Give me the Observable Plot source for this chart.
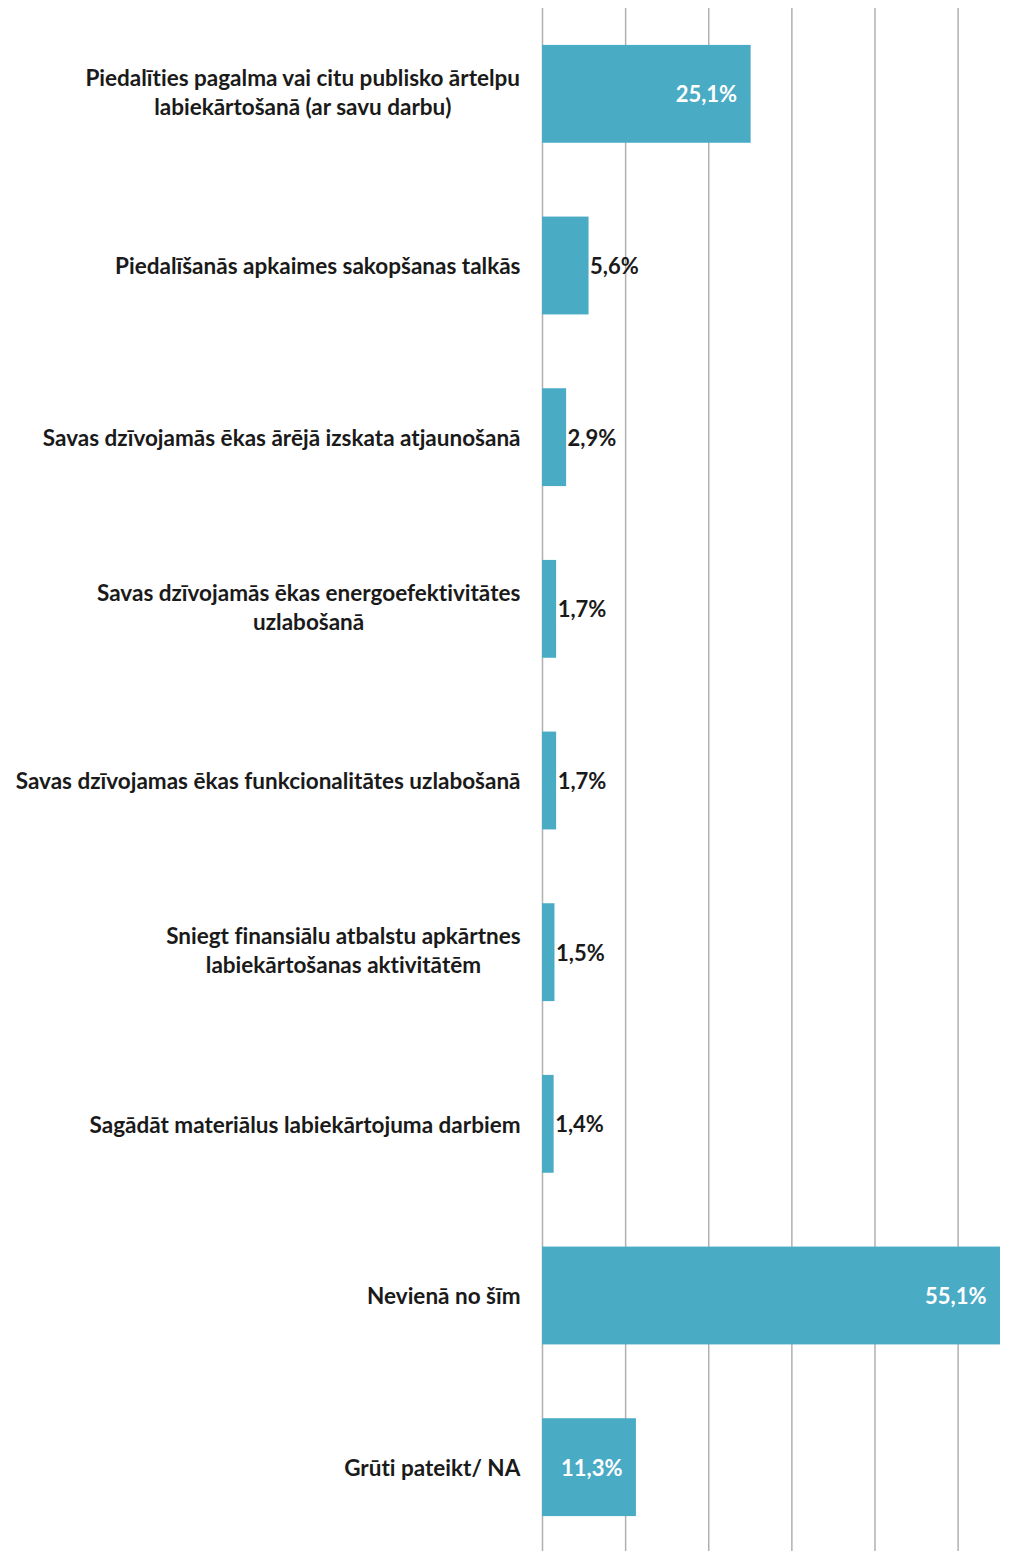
<!DOCTYPE html>
<html>
<head>
<meta charset="utf-8">
<script src="https://cdn.jsdelivr.net/npm/d3@7"></script>
<script src="https://cdn.jsdelivr.net/npm/@observablehq/plot@0.6"></script>
<style>
  html, body { margin: 0; padding: 0; background: #fff; }
  #chart svg { display: block; }
</style>
</head>
<body>
<div id="chart"></div>
<script>
const categories = [
  "Piedalīties pagalma vai citu publisko ārtelpu\nlabiekārtošanā (ar savu darbu)",
  "Piedalīšanās apkaimes sakopšanas talkās",
  "Savas dzīvojamās ēkas ārējā izskata atjaunošanā",
  "Savas dzīvojamās ēkas energoefektivitātes\nuzlabošanā",
  "Savas dzīvojamas ēkas funkcionalitātes uzlabošanā",
  "Sniegt finansiālu atbalstu apkārtnes\nlabiekārtošanas aktivitātēm",
  "Sagādāt materiālus labiekārtojuma darbiem",
  "Nevienā no šīm",
  "Grūti pateikt/ NA"
];
const values = [25.1, 5.6, 2.9, 1.7, 1.7, 1.5, 1.4, 55.1, 11.3];
const valueLabels = ["25,1%", "5,6%", "2,9%", "1,7%", "1,7%", "1,5%", "1,4%", "55,1%", "11,3%"];
const gridTicks = [0, 10, 20, 30, 40, 50];

const data = categories.map((c, i) => ({cat: c, value: values[i], label: valueLabels[i], inside: values[i] > 10}));

const FONT = "Lato, 'Open Sans', sans-serif";
const FS = 22.5;
const VFS = 22;
const ctx = document.createElement("canvas").getContext("2d");
ctx.font = `bold ${FS}px Lato`;
const blockWidth = (s) => Math.max(...s.split("\n").map(l => ctx.measureText(l).width));

const labelMarks = data.map(d => Plot.text([d], {
  x: () => 0, y: "cat", text: "cat",
  textAnchor: "middle", lineHeight: 1.29,
  dx: -22 - blockWidth(d.cat) / 2,
  dy: d.cat.includes("\n") ? -3 : -1,
  fontSize: FS, fontWeight: "bold", fill: "#1a1a1a"
}));

const chart = Plot.plot({
  width: 1029,
  height: 1553,
  marginLeft: 542,
  marginRight: 29,
  marginTop: 8,
  marginBottom: 0,
  style: {fontFamily: FONT, background: "#fff", overflow: "visible", fontVariantLigatures: "none"},
  x: {domain: [0, 55.1], axis: null},
  y: {domain: categories, axis: null, paddingInner: 0.43, paddingOuter: 0.215, round: false},
  marks: [
    Plot.ruleX(gridTicks, {stroke: "#b0b0b0", strokeWidth: 1.5, y1: -1}),
    Plot.ruleX(gridTicks, {stroke: "#b0b0b0", strokeWidth: 1.5}),
    Plot.barX(data, {x: "value", y: "cat", fill: "#4aabc5"}),
    Plot.text(data.filter(d => d.inside), {
      x: "value", y: "cat", text: "label", textAnchor: "end", dx: -14, dy: 1,
      fill: "#ffffff", fontSize: VFS, fontWeight: "bold"
    }),
    Plot.text(data.filter(d => !d.inside), {
      x: "value", y: "cat", text: "label", textAnchor: "start", dx: 1, dy: 1,
      fill: "#1a1a1a", fontSize: VFS, fontWeight: "bold"
    }),
    ...labelMarks
  ]
});
document.getElementById("chart").appendChild(chart);
</script>
</body>
</html>
